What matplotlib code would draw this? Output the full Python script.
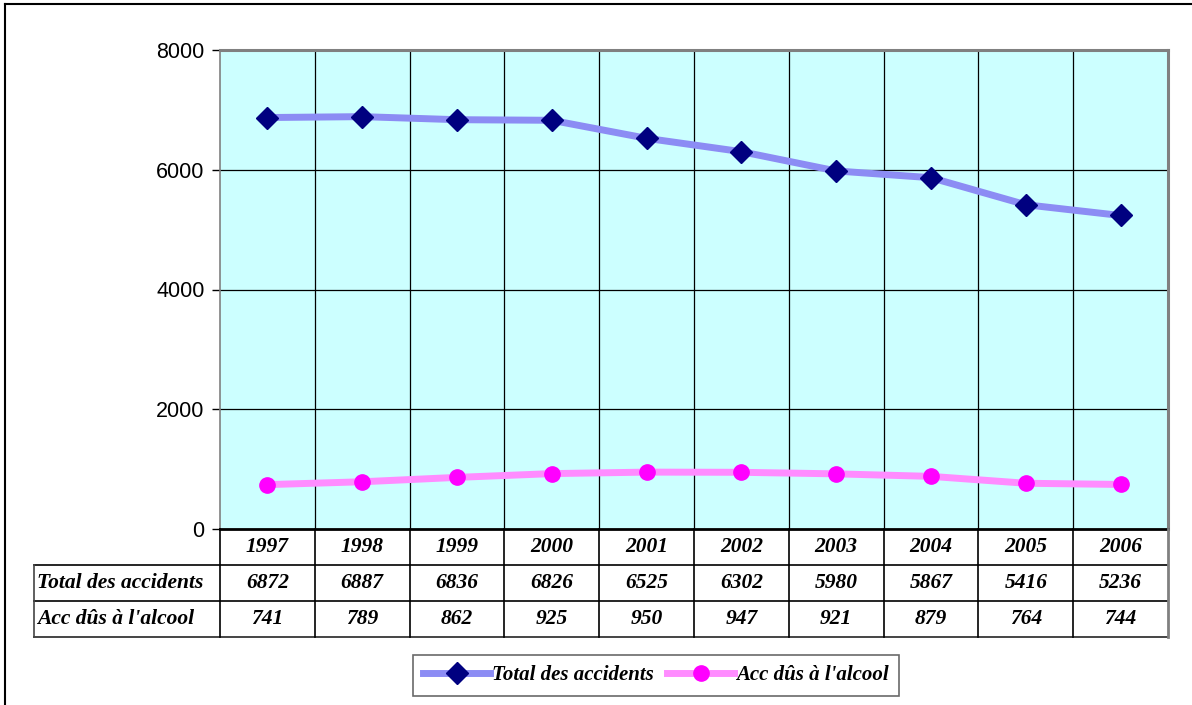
import numpy as np
import matplotlib
matplotlib.use("Agg")
import matplotlib.pyplot as plt
from matplotlib.lines import Line2D

years = ["1997", "1998", "1999", "2000", "2001", "2002", "2003", "2004", "2005", "2006"]
total_accidents = [6872, 6887, 6836, 6826, 6525, 6302, 5980, 5867, 5416, 5236]
alcohol_accidents = [741, 789, 862, 925, 950, 947, 921, 879, 764, 744]
series_names = ["Total des accidents", "Acc dûs à l'alcool"]
y_ticks = [0, 2000, 4000, 6000, 8000]

W, H = 1192, 705
fig = plt.figure(figsize=(W / 100, H / 100), dpi=100)
fig.patch.set_facecolor("white")

# plot area in pixels
left_px, right_px, top_px, bot_px = 220, 1168, 50, 529
ax = fig.add_axes([left_px / W, 1 - bot_px / H,
                   (right_px - left_px) / W, (bot_px - top_px) / H])
ax.set_facecolor("#ccffff")

x = np.arange(len(years))
ax.set_xlim(-0.5, len(years) - 0.5)
ax.set_ylim(0, 8000)

# grid
for yv in y_ticks[1:-1]:
    ax.axhline(yv, color="black", lw=0.9, zorder=1)
for xb in np.arange(0.5, len(years) - 0.5, 1):
    ax.axvline(xb, color="black", lw=0.9, zorder=1)

blue_line = "#8c8cf4"
pink_line = "#ff8cff"
ax.plot(x, total_accidents, color=blue_line, lw=5, zorder=3, solid_capstyle="butt")
ax.plot(x, total_accidents, ls="none", marker="D", ms=11, color="#000080", zorder=4)
ax.plot(x, alcohol_accidents, color=pink_line, lw=5, zorder=3, solid_capstyle="butt")
ax.plot(x, alcohol_accidents, ls="none", marker="o", ms=11, color="#ff00ff", zorder=4)

ax.set_yticks(y_ticks)
ax.set_yticklabels([str(v) for v in y_ticks], fontsize=15.5, family="Liberation Sans")
ax.set_xticks([])
ax.tick_params(axis="y", length=6, width=1, pad=5)

for side in ["top", "right"]:
    ax.spines[side].set_color("#808080")
    ax.spines[side].set_linewidth(2.2)
ax.spines["left"].set_color("#808080")
ax.spines["left"].set_linewidth(1.2)
ax.spines["bottom"].set_color("black")
ax.spines["bottom"].set_linewidth(2)

# data table below the plot
row_h = 36
table_left = 34
col_w = (right_px - left_px) / len(years)
tfont = dict(family="Liberation Serif", weight="bold", style="italic", fontsize=15.5)

def fx(px):
    return px / W

def fy(py):
    return 1 - py / H

# horizontal lines
fig.add_artist(Line2D([fx(table_left), fx(right_px)], [fy(bot_px + row_h)] * 2, color="black", lw=1.2))
fig.add_artist(Line2D([fx(table_left), fx(right_px)], [fy(bot_px + 2 * row_h)] * 2, color="black", lw=1.2))
fig.add_artist(Line2D([fx(table_left), fx(right_px)], [fy(bot_px + 3 * row_h)] * 2, color="#444444", lw=1.4))
# vertical lines
fig.add_artist(Line2D([fx(table_left)] * 2, [fy(bot_px + row_h), fy(bot_px + 3 * row_h)], color="#444444", lw=1.2))
for i in range(len(years)):
    xp = left_px + i * col_w
    fig.add_artist(Line2D([fx(xp)] * 2, [fy(bot_px), fy(bot_px + 3 * row_h)], color="black", lw=1.2))
fig.add_artist(Line2D([fx(right_px)] * 2, [fy(bot_px), fy(bot_px + 3 * row_h)], color="#808080", lw=2))

for i, yr in enumerate(years):
    cx = left_px + (i + 0.5) * col_w
    fig.text(fx(cx), fy(bot_px + 0.5 * row_h), yr, ha="center", va="center", **tfont)
    fig.text(fx(cx), fy(bot_px + 1.5 * row_h), str(total_accidents[i]), ha="center", va="center", **tfont)
    fig.text(fx(cx), fy(bot_px + 2.5 * row_h), str(alcohol_accidents[i]), ha="center", va="center", **tfont)

fig.text(fx(table_left + 3), fy(bot_px + 1.5 * row_h), series_names[0], ha="left", va="center", **tfont)
fig.text(fx(table_left + 3), fy(bot_px + 2.5 * row_h), series_names[1], ha="left", va="center", **tfont)

# legend
handles = [
    Line2D([], [], color=blue_line, lw=5, marker="D", ms=11, mfc="#000080", mec="#000080"),
    Line2D([], [], color=pink_line, lw=5, marker="o", ms=11, mfc="#ff00ff", mec="#ff00ff"),
]
leg = fig.legend(handles, series_names, loc="center", bbox_to_anchor=(fx(656), fy(675.5)),
                 ncol=2, frameon=True, fancybox=False, handlelength=3.2, handletextpad=0.1,
                 columnspacing=0.65, borderpad=0.5, borderaxespad=0,
                 prop=dict(family="Liberation Serif", weight="bold", style="italic", size=15))
leg.get_frame().set_edgecolor("#444444")
leg.get_frame().set_linewidth(1.2)

# outer chart frame (left and top visible)
fig.add_artist(Line2D([fx(4.5), fx(4.5)], [fy(3.5), 0], color="black", lw=1.5))
fig.add_artist(Line2D([fx(4.5), 1], [fy(3.5), fy(3.5)], color="black", lw=1.5))

fig.savefig("out.png", dpi=100)
